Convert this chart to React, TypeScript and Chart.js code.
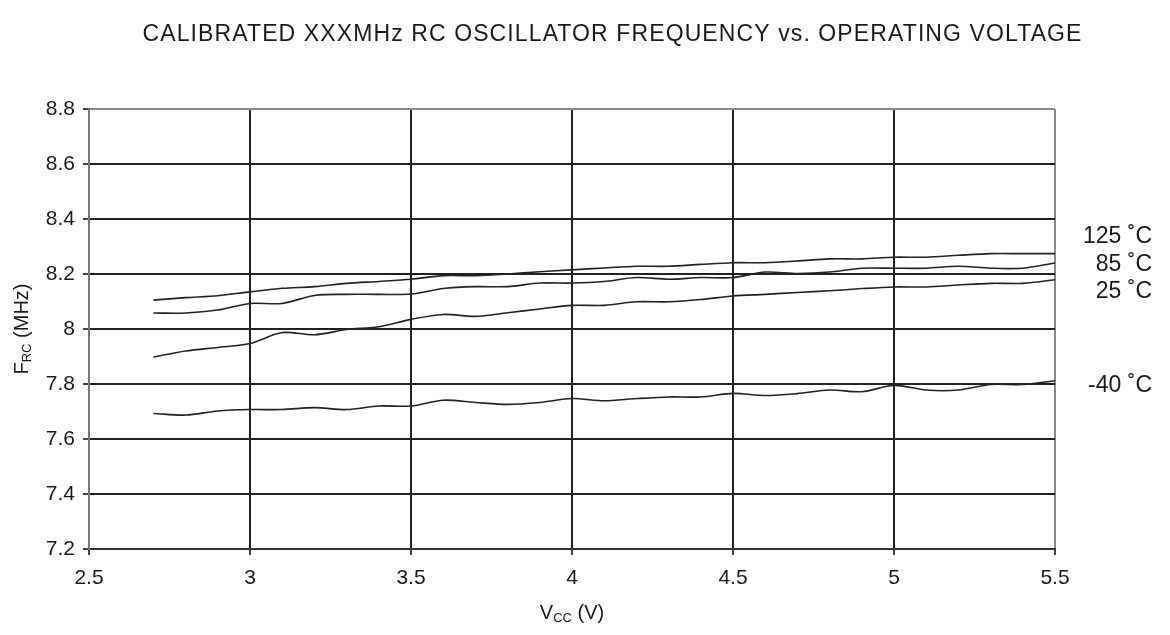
import React, { useEffect, useRef } from "react";
import { Chart, registerables } from "chart.js";

Chart.register(...registerables);

const chartTitle = "CALIBRATED XXXMHz RC OSCILLATOR FREQUENCY vs. OPERATING VOLTAGE";

const voltages = [
  2.7, 2.8, 2.9, 3.0, 3.1, 3.2, 3.3, 3.4, 3.5, 3.6, 3.7, 3.8, 3.9, 4.0, 4.1,
  4.2, 4.3, 4.4, 4.5, 4.6, 4.7, 4.8, 4.9, 5.0, 5.1, 5.2, 5.3, 5.4, 5.5,
];

const freq125 = [
  8.105, 8.114, 8.121, 8.135, 8.148, 8.154, 8.166, 8.173, 8.181,
  8.194, 8.194, 8.2, 8.208, 8.215, 8.222, 8.228, 8.228, 8.235, 8.241,
  8.241, 8.247, 8.255, 8.255, 8.261, 8.261, 8.268, 8.274, 8.274, 8.274,
];

const freq85 = [
  8.058, 8.058, 8.069, 8.093, 8.093, 8.122, 8.126, 8.126, 8.127,
  8.147, 8.154, 8.154, 8.167, 8.167, 8.173, 8.187, 8.181, 8.187, 8.187,
  8.207, 8.202, 8.207, 8.221, 8.221, 8.221, 8.228, 8.221, 8.221, 8.24,
];

const freq25 = [
  7.898, 7.92, 7.933, 7.947, 7.987, 7.979, 7.998, 8.008, 8.035,
  8.053, 8.046, 8.059, 8.073, 8.086, 8.086, 8.099, 8.099, 8.107, 8.12,
  8.126, 8.133, 8.139, 8.147, 8.153, 8.153, 8.16, 8.166, 8.166, 8.179,
];

const freqM40 = [
  7.693, 7.687, 7.702, 7.707, 7.707, 7.714, 7.707, 7.72, 7.72,
  7.741, 7.733, 7.726, 7.733, 7.747, 7.739, 7.747, 7.753, 7.753, 7.766,
  7.758, 7.765, 7.778, 7.772, 7.795, 7.778, 7.778, 7.798, 7.798, 7.812,
];

const seriesNames = ["125 \u02DAC", "85 \u02DAC", "25 \u02DAC", "-40 \u02DAC"];
const seriesLabelValues = [8.336, 8.233, 8.136, 7.795];

const xTicks = [2.5, 3, 3.5, 4, 4.5, 5, 5.5];
const yTicks = [7.2, 7.4, 7.6, 7.8, 8, 8.2, 8.4, 8.6, 8.8];

const FONT = "'Liberation Sans', Arial, Helvetica, sans-serif";

type Part = { text: string; size: number; dy: number };

function drawParts(ctx: CanvasRenderingContext2D, parts: Part[], cx: number, cy: number) {
  let total = 0;
  const widths = parts.map((p) => {
    ctx.font = `${p.size}px ${FONT}`;
    const w = ctx.measureText(p.text).width;
    total += w;
    return w;
  });
  let x = cx - total / 2;
  ctx.textAlign = "left";
  ctx.textBaseline = "middle";
  parts.forEach((p, i) => {
    ctx.font = `${p.size}px ${FONT}`;
    ctx.fillText(p.text, x, cy + p.dy);
    x += widths[i];
  });
}

const annotationPlugin = {
  id: "annotations",
  afterDraw(chart: any) {
    const ctx: CanvasRenderingContext2D = chart.ctx;
    const yScale = chart.scales.y;
    const xScale = chart.scales.x;
    ctx.save();
    ctx.fillStyle = "#1a1a1a";

    // Title spread to the reference width
    ctx.save();
    const targetW = 940;
    ctx.font = `23px ${FONT}`;
    ctx.textAlign = "center";
    ctx.textBaseline = "middle";
    const baseW = ctx.measureText(chartTitle).width;
    const spacing = Math.max(0, (targetW - baseW) / chartTitle.length);
    (ctx as any).letterSpacing = `${spacing}px`;
    ctx.fillText(chartTitle, 612 + spacing / 2, 35);
    (ctx as any).letterSpacing = "0px";
    ctx.restore();

    // Series labels on the right
    ctx.font = `23px ${FONT}`;
    ctx.textAlign = "right";
    ctx.textBaseline = "middle";
    seriesNames.forEach((name, i) => {
      ctx.fillText(name, 1152, yScale.getPixelForValue(seriesLabelValues[i]));
    });

    // X axis title with subscript
    const xc = (xScale.left + xScale.right) / 2;
    drawParts(
      ctx,
      [
        { text: "V", size: 20, dy: 0 },
        { text: "CC", size: 13, dy: 5 },
        { text: " (V)", size: 20, dy: 0 },
      ],
      xc,
      613
    );

    // Y axis title rotated with subscript
    const yc = (yScale.top + yScale.bottom) / 2;
    ctx.translate(22, yc);
    ctx.rotate(-Math.PI / 2);
    drawParts(
      ctx,
      [
        { text: "F", size: 20, dy: 0 },
        { text: "RC", size: 13, dy: 5 },
        { text: " (MHz)", size: 20, dy: 0 },
      ],
      0,
      0
    );
    ctx.restore();
  },
};

export default function App() {
  const canvasRef = useRef<HTMLCanvasElement | null>(null);

  useEffect(() => {
    if (!canvasRef.current) return;
    const mk = (label: string, arr: number[]) => ({
      label,
      data: voltages.map((v, i) => ({ x: v, y: arr[i] })),
      borderColor: "#222222",
      borderWidth: 1.6,
      pointRadius: 0,
      fill: false,
      tension: 0.3,
    });

    const chart = new Chart(canvasRef.current, {
      type: "line",
      data: {
        datasets: [
          mk(seriesNames[0], freq125),
          mk(seriesNames[1], freq85),
          mk(seriesNames[2], freq25),
          mk(seriesNames[3], freqM40),
        ],
      },
      options: {
        animation: false,
        responsive: false,
        devicePixelRatio: 1,
        layout: { padding: { top: 109, right: 115, bottom: 0, left: 0 } },
        plugins: {
          legend: { display: false },
          title: { display: false },
          tooltip: { enabled: false },
        },
        scales: {
          x: {
            type: "linear",
            min: 2.5,
            max: 5.5,
            afterBuildTicks: (s: any) => {
              s.ticks = xTicks.map((v) => ({ value: v }));
            },
            afterFit: (s: any) => {
              s.height = 86;
            },
            ticks: {
              color: "#1a1a1a",
              font: { family: FONT, size: 21 },
              padding: 11,
              maxRotation: 0,
              callback: (v: any) => String(v),
            },
            grid: {
              color: (c: any) =>
                c.tick && c.tick.value === 5.5 ? "#8a8a8a" : "#222222",
              lineWidth: 2,
              tickLength: 6,
              tickColor: "#444444",
            },
            border: { color: "#333333", width: 2 },
          },
          y: {
            type: "linear",
            min: 7.2,
            max: 8.8,
            afterBuildTicks: (s: any) => {
              s.ticks = yTicks.map((v) => ({ value: v }));
            },
            afterFit: (s: any) => {
              s.width = 89;
            },
            ticks: {
              color: "#1a1a1a",
              font: { family: FONT, size: 21 },
              padding: 8,
              callback: (v: any) => String(v),
            },
            grid: {
              color: (c: any) =>
                c.tick && c.tick.value === 8.8 ? "#8a8a8a" : "#222222",
              lineWidth: 2,
              tickLength: 6,
              tickColor: "#444444",
            },
            border: { color: "#777777", width: 2 },
          },
        },
      },
      plugins: [annotationPlugin],
    } as any);

    return () => chart.destroy();
  }, []);

  return (
    <div style={{ position: "fixed", left: 0, top: 0, width: 1170, height: 635, background: "#ffffff" }}>
      <canvas ref={canvasRef} width={1170} height={635} />
    </div>
  );
}
